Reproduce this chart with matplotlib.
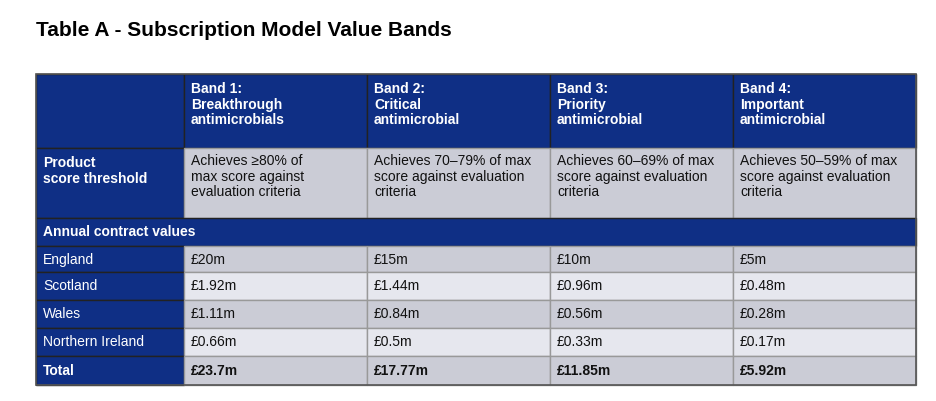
import matplotlib
matplotlib.use("Agg")
import matplotlib.pyplot as plt
from matplotlib.patches import Rectangle

plt.rcParams['font.family'] = ['Liberation Sans', 'DejaVu Sans']

title = "Table A - Subscription Model Value Bands"
bands = ["Band 1:\nBreakthrough\nantimicrobials", "Band 2:\nCritical\nantimicrobial",
         "Band 3:\nPriority\nantimicrobial", "Band 4:\nImportant\nantimicrobial"]
thresholds = ["Achieves ≥80% of\nmax score against\nevaluation criteria",
              "Achieves 70–79% of max\nscore against evaluation\ncriteria",
              "Achieves 60–69% of max\nscore against evaluation\ncriteria",
              "Achieves 50–59% of max\nscore against evaluation\ncriteria"]
regions = ["England", "Scotland", "Wales", "Northern Ireland"]
values = [["£20m", "£15m", "£10m", "£5m"],
          ["£1.92m", "£1.44m", "£0.96m", "£0.48m"],
          ["£1.11m", "£0.84m", "£0.56m", "£0.28m"],
          ["£0.66m", "£0.5m", "£0.33m", "£0.17m"]]
totals = ["£23.7m", "£17.77m", "£11.85m", "£5.92m"]

NAVY = "#0F2F85"
GRAY = "#CBCCD6"
LIGHT = "#E6E7EE"

fig = plt.figure(figsize=(9.36, 4.02), dpi=100)
ax = fig.add_axes([0, 0, 1, 1])
ax.set_xlim(0, 936); ax.set_ylim(402, 0); ax.axis('off')

xs = [36, 184, 367, 550, 733, 916]
ys = [75, 149, 219, 247, 273, 301, 329, 357, 386]

def cell(x0, x1, y0, y1, fc, ec):
    ax.add_patch(Rectangle((x0, y0), x1 - x0, y1 - y0, facecolor=fc, edgecolor=ec, lw=1))

def txt(x, y, s, color, bold=False):
    ax.text(x + 7, y, s, color=color, fontsize=10, fontweight='bold' if bold else 'normal',
            va='top', ha='left', linespacing=1.15)

ax.text(36, 30, title, fontsize=15, fontweight='bold', va='center', ha='left')

# header row
cell(xs[0], xs[1], ys[0], ys[1], NAVY, "#222")
for i, b in enumerate(bands):
    cell(xs[i+1], xs[i+2], ys[0], ys[1], NAVY, "#222")
    txt(xs[i+1], ys[0] + 7, b, "white", True)
# threshold row
cell(xs[0], xs[1], ys[1], ys[2], NAVY, "#222")
txt(xs[0], ys[1] + 7, "Product\nscore threshold", "white", True)
for i, t in enumerate(thresholds):
    cell(xs[i+1], xs[i+2], ys[1], ys[2], GRAY, "#999")
    txt(xs[i+1], ys[1] + 5, t, "#111")
# annual
cell(xs[0], xs[5], ys[2], ys[3], NAVY, "#222")
txt(xs[0], ys[2] + 6, "Annual contract values", "white", True)
for r, reg in enumerate(regions):
    y0, y1 = ys[3+r], ys[4+r]
    cell(xs[0], xs[1], y0, y1, NAVY, "#222")
    txt(xs[0], y0 + 6, reg, "white")
    fc = GRAY if r % 2 == 0 else LIGHT
    for i, v in enumerate(values[r]):
        cell(xs[i+1], xs[i+2], y0, y1, fc, "#999")
        txt(xs[i+1], y0 + 6, v, "#111")
y0, y1 = ys[7], ys[8]
cell(xs[0], xs[1], y0, y1, NAVY, "#222")
txt(xs[0], y0 + 7, "Total", "white", True)
for i, v in enumerate(totals):
    cell(xs[i+1], xs[i+2], y0, y1, GRAY, "#999")
    txt(xs[i+1], y0 + 7, v, "#111", True)
ax.add_patch(Rectangle((xs[0], ys[0]), xs[5]-xs[0], ys[8]-ys[0], fill=False, edgecolor="#555", lw=1.2))

fig.savefig("out.png", dpi=100)
